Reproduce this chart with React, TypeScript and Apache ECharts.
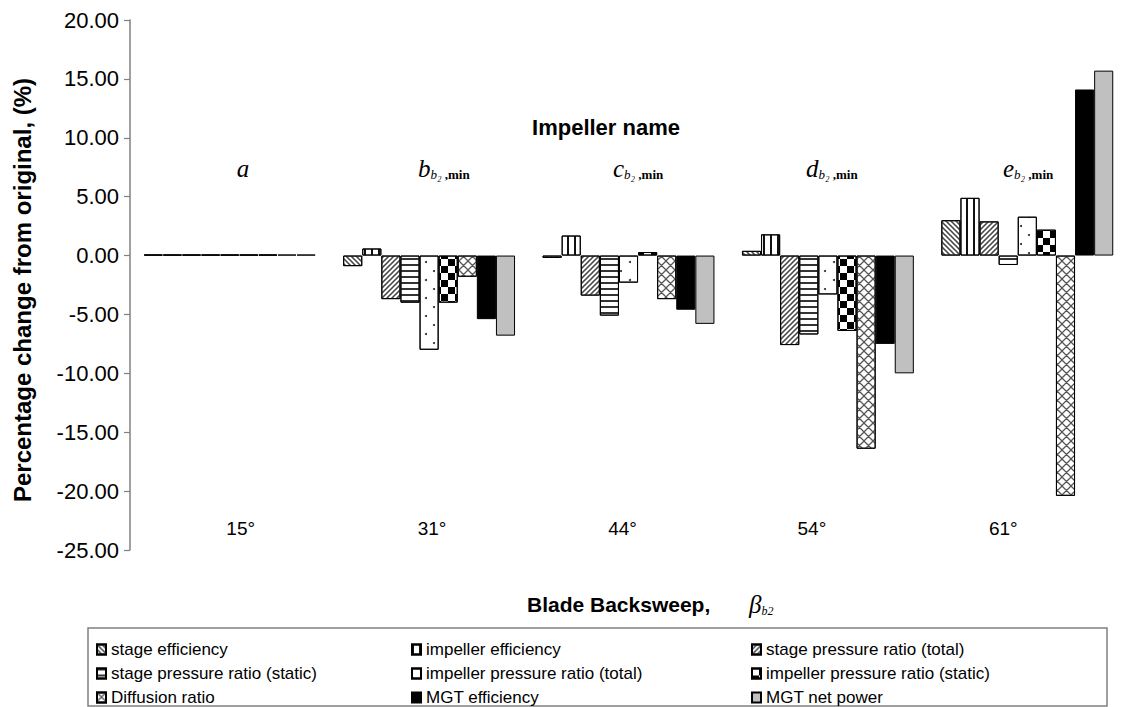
import { useEffect, useRef } from 'react';
import * as echarts from 'echarts';

// Blade backsweep angle of each impeller (category axis)
const backsweep = ['15°', '31°', '44°', '54°', '61°'];
// Impeller names shown above each group
const impellerLetters = ['a', 'b', 'c', 'd', 'e'];
// Y axis range and step
const yMin = -25;
const yMax = 20;
const yStep = 5;

// Percentage change from the original impeller, per impeller a..e
const stageEfficiency = [0, -0.9, -0.2, 0.4, 3.0];
const impellerEfficiency = [0, 0.6, 1.7, 1.8, 4.9];
const stagePrTotal = [0, -3.7, -3.4, -7.6, 2.9];
const stagePrStatic = [0, -4.0, -5.1, -6.7, -0.8];
const impellerPrTotal = [0, -8.0, -2.3, -3.3, 3.3];
const impellerPrStatic = [0, -4.0, 0.3, -6.4, 2.2];
const diffusionRatio = [0, -1.8, -3.7, -16.4, -20.4];
const mgtEfficiency = [0, -5.4, -4.6, -7.5, 14.1];
const mgtNetPower = [0, -6.8, -5.8, -10.0, 15.7];

const seriesNames = [
  'stage efficiency',
  'impeller efficiency',
  'stage pressure ratio (total)',
  'stage pressure ratio (static)',
  'impeller pressure ratio (total)',
  'impeller pressure ratio (static)',
  'Diffusion ratio',
  'MGT efficiency',
  'MGT net power',
];

// Hatch symbols drawn inside a 10x10 tile
function backslashPath(w: number) {
  return `M0,0L${w},0L10,${10 - w}L10,10L${10 - w},10L0,${w}Z` +
    `M${10 - w},0L10,0L10,${w}Z` +
    `M0,${10 - w}L${w},10L0,10Z`;
}
function slashPath(w: number) {
  return `M10,0L10,${w}L${w},10L0,10L0,${10 - w}L${10 - w},0Z` +
    `M0,0L${w},0L0,${w}Z` +
    `M10,${10 - w}L10,10L${10 - w},10Z`;
}

const decals: any[] = [
  { symbol: 'path://' + backslashPath(2.2), symbolSize: 1, color: '#444', backgroundColor: '#fff', dashArrayX: [4.5, 0], dashArrayY: [4.5, 0] },
  { symbol: 'rect', symbolSize: 1, color: '#111', backgroundColor: '#fff', dashArrayX: [1.6, 4.9], dashArrayY: [1, 0] },
  { symbol: 'path://' + slashPath(2.2), symbolSize: 1, color: '#444', backgroundColor: '#fff', dashArrayX: [4.5, 0], dashArrayY: [4.5, 0] },
  { symbol: 'rect', symbolSize: 1, color: '#333', backgroundColor: '#fff', dashArrayX: [1, 0], dashArrayY: [1.5, 3.7] },
  { symbol: 'circle', symbolSize: 1, color: '#222', backgroundColor: '#fff', dashArrayX: [[1.8, 14.2], [0, 8, 1.8, 6.2]], dashArrayY: [1.8, 6.2] },
  { symbol: 'rect', symbolSize: 1, color: '#000', backgroundColor: '#fff', dashArrayX: [[6.4, 6.4], [0, 6.4, 6.4, 0]], dashArrayY: [6.4, 0] },
  { symbol: 'path://' + backslashPath(1.0) + slashPath(1.0), symbolSize: 1, color: '#555', backgroundColor: '#fff', dashArrayX: [9, 0], dashArrayY: [9, 0] },
  null,
  null,
];
const fills = ['#fff', '#fff', '#fff', '#fff', '#fff', '#fff', '#fff', '#000', '#c0c0c0'];
const seriesData = [
  stageEfficiency, impellerEfficiency, stagePrTotal,
  stagePrStatic, impellerPrTotal, impellerPrStatic,
  diffusionRatio, mgtEfficiency, mgtNetPower,
];

// Horizontal nudge of each angle label relative to its band centre
const labelShift = [11, 3, -6, -16, -24];
const labelRich: Record<string, any> = {};
labelShift.forEach((s, i) => {
  labelRich['p' + i] = {
    fontSize: 19,
    color: '#000',
    fontFamily: 'Liberation Sans, Arial, sans-serif',
    padding: s >= 0 ? [0, 0, 0, 2 * s] : [0, -2 * s, 0, 0],
  };
});

// Positions of the impeller name labels
const nameX = [243, 418, 613, 806, 1003];

export default function App() {
  const ref = useRef<HTMLDivElement>(null);

  useEffect(() => {
    if (!ref.current) return;
    const chart = echarts.init(ref.current, null, { renderer: 'svg' });

    const series = seriesNames.map((name, i) => ({
      type: 'bar',
      name,
      data: seriesData[i],
      barGap: '0%',
      barCategoryGap: '13.8%',
      barMinHeight: 1,
      itemStyle: {
        color: fills[i],
        borderColor: '#000',
        borderWidth: 1,
        ...(decals[i] ? { decal: decals[i] } : {}),
      },
      emphasis: { disabled: true },
    }));

    const legendBase = {
      orient: 'vertical',
      top: 641,
      itemWidth: 9,
      itemHeight: 10,
      itemGap: 7,
      icon: 'rect',
      selectedMode: false,
      padding: 0,
      textStyle: { fontSize: 17, color: '#000', lineHeight: 17, fontFamily: 'Liberation Sans, Arial, sans-serif' },
    };

    const serif = 'Liberation Serif, Times New Roman, serif';
    const nameRich = {
      l: { fontSize: 25, fontStyle: 'italic', fontFamily: serif, color: '#000', lineHeight: 26, verticalAlign: 'middle' },
      s: { fontSize: 13, fontStyle: 'italic', fontFamily: serif, color: '#000', lineHeight: 13, verticalAlign: 'bottom' },
      m: { fontSize: 13, fontWeight: 'bold', fontFamily: serif, color: '#000', lineHeight: 13, verticalAlign: 'bottom' },
    };

    const nameTexts = impellerLetters.map((letter, i) => ({
      type: 'text',
      x: nameX[i],
      y: 168,
      style: {
        text: i === 0 ? `{l|${letter}}` : `{l|${letter}}{s|b₂}{m| ,min}`,
        rich: nameRich,
        align: i === 0 ? 'center' : 'left',
        textAlign: i === 0 ? 'center' : 'left',
        verticalAlign: 'middle',
        textVerticalAlign: 'middle',
      },
    }));

    chart.setOption({
      animation: false,
      textStyle: { fontFamily: 'Liberation Sans, Arial, sans-serif' },
      grid: { left: 130, right: -19, top: 20, bottom: 157, containLabel: false },
      xAxis: {
        type: 'category',
        data: backsweep,
        axisLine: { show: false, onZero: false },
        axisTick: { show: false },
        splitLine: { show: false },
        axisLabel: {
          interval: 0,
          margin: -31,
          fontSize: 19,
          color: '#000',
          formatter: (v: string, i: number) => `{p${i}|${v}}`,
          rich: labelRich,
        },
      },
      yAxis: {
        type: 'value',
        min: yMin,
        max: yMax,
        interval: yStep,
        splitLine: { show: false },
        axisLine: { show: true, lineStyle: { color: '#808080', width: 1.5 } },
        axisTick: { show: true, length: 6, lineStyle: { color: '#808080', width: 1.2 } },
        axisLabel: {
          fontSize: 22,
          color: '#000',
          margin: 11,
          formatter: (v: number) => v.toFixed(2),
        },
      },
      legend: [
        { ...legendBase, left: 96, data: [seriesNames[0], seriesNames[3], seriesNames[6]] },
        { ...legendBase, left: 411, data: [seriesNames[1], seriesNames[4], seriesNames[7]] },
        { ...legendBase, left: 751, data: [seriesNames[2], seriesNames[5], seriesNames[8]] },
      ],
      graphic: [
        {
          type: 'rect',
          shape: { x: 88, y: 628, width: 1019, height: 78 },
          style: { fill: 'none', stroke: '#808080', lineWidth: 1.5 },
          silent: true,
        },
        {
          type: 'text',
          x: 22,
          y: 290,
          rotation: Math.PI / 2,
          style: {
            text: 'Percentage change from original, (%)',
            fontSize: 24,
            fontWeight: 'bold',
            fontFamily: 'Liberation Sans, Arial, sans-serif',
            fill: '#000',
            align: 'center',
            textAlign: 'center',
            verticalAlign: 'middle',
            textVerticalAlign: 'middle',
          },
        },
        {
          type: 'text',
          x: 527,
          y: 604,
          style: {
            text: 'Blade Backsweep,',
            fontSize: 21,
            fontWeight: 'bold',
            fontFamily: 'Liberation Sans, Arial, sans-serif',
            fill: '#000',
            align: 'left',
            textAlign: 'left',
            verticalAlign: 'middle',
            textVerticalAlign: 'middle',
          },
        },
        {
          type: 'text',
          x: 749,
          y: 604,
          style: {
            text: '{l|β}{s|b2}',
            rich: {
              l: { fontSize: 25, fontStyle: 'italic', fontFamily: serif, color: '#000', lineHeight: 26, verticalAlign: 'middle' },
              s: { fontSize: 12, fontStyle: 'italic', fontFamily: serif, color: '#000', lineHeight: 12, verticalAlign: 'bottom' },
            },
            align: 'left',
            textAlign: 'left',
            verticalAlign: 'middle',
            textVerticalAlign: 'middle',
          },
        },
        {
          type: 'text',
          x: 606,
          y: 127,
          style: {
            text: 'Impeller name',
            fontSize: 22,
            fontWeight: 'bold',
            fontFamily: 'Liberation Sans, Arial, sans-serif',
            fill: '#000',
            align: 'center',
            textAlign: 'center',
            verticalAlign: 'middle',
            textVerticalAlign: 'middle',
          },
        },
        ...nameTexts,
      ],
      series,
    });

    return () => chart.dispose();
  }, []);

  return (
    <div
      ref={ref}
      style={{ position: 'absolute', left: 0, top: 0, width: 1127, height: 707, background: '#fff' }}
    />
  );
}
